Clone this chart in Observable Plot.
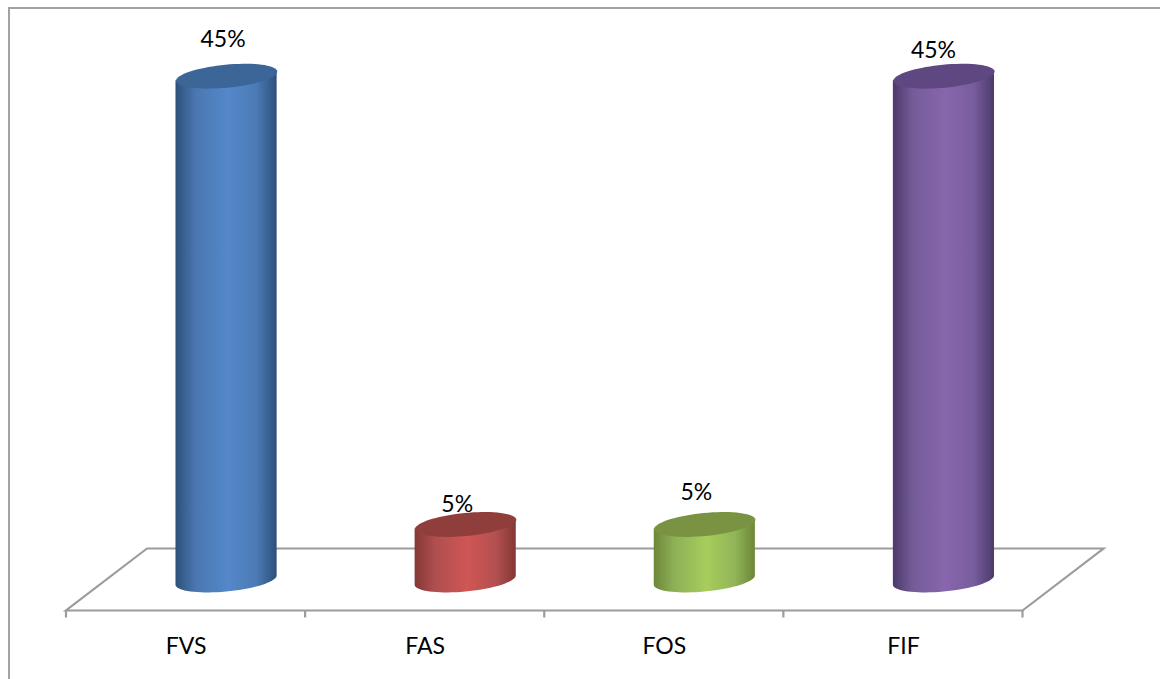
<!DOCTYPE html>
<html>
<head>
<meta charset="utf-8">
<style>
  html, body { margin: 0; background: #fff; overflow: hidden; }
  #panel { position: relative; width: 1160px; height: 679px; }
  #panel::before {
    content: ""; position: absolute; left: 8px; top: 7px; right: 0; bottom: 0;
    border-top: 2px solid #a2a2a2; border-left: 2px solid #a2a2a2; pointer-events: none;
  }
</style>
<script src="https://cdn.jsdelivr.net/npm/d3@7"></script>
<script src="https://cdn.jsdelivr.net/npm/@observablehq/plot@0.6"></script>
</head>
<body>
<div id="panel"></div>
<script>
// Share of each factor, in percent
const categories = ["FVS", "FAS", "FOS", "FIF"];
const shares = [45, 5, 5, 45];

// Per-column colours: top face, shaded edge, lit centre
const topColors = ["#3c6698", "#903e3c", "#7a9343", "#5f4782"];
const edgeColors = ["#2d5079", "#853735", "#6d8738", "#4c3a6b"];
const midColors = ["#5488ca", "#cf5654", "#a6cd5c", "#8866ad"];

const rows = categories.map((name, i) => ({name, share: shares[i], i}));

// Oblique projection of the chart floor
const depthX = 81;
const depthY = 62;
const shiftX = 40.5;

// Tilted ellipse that closes each column
const radiusA = 50.8;
const radiusB = 11.5;
const tilt = -5.5 * Math.PI / 180;
const ellipsePoint = t => [
  radiusA * Math.cos(t) * Math.cos(tilt) - radiusB * Math.sin(t) * Math.sin(tilt),
  radiusA * Math.cos(t) * Math.sin(tilt) + radiusB * Math.sin(t) * Math.cos(tilt)
];
const tangentT = Math.atan2(-radiusB * Math.sin(tilt), radiusA * Math.cos(tilt));

const ellipseSymbol = {
  draw(context) {
    d3.range(72).forEach(k => {
      const [px, py] = ellipsePoint(k / 72 * 2 * Math.PI);
      if (k) context.lineTo(px, py); else context.moveTo(px, py);
    });
    context.closePath();
  }
};

// Horizontal cylinder shading, one gradient per category
function gradients() {
  const defs = d3.create("svg:defs");
  categories.forEach((name, i) => {
    const g = defs.append("linearGradient").attr("id", `shade-${i}`);
    [[0, edgeColors[i], 1], [0.2, midColors[i], 0.82], [0.52, midColors[i], 1],
     [0.8, midColors[i], 0.85], [1, edgeColors[i], 1]].forEach(([offset, color, light]) => {
      g.append("stop")
        .attr("offset", offset)
        .attr("stop-color", d3.interpolateRgb("#1c2c40", color)(light));
    });
  });
  return defs.node();
}

// Floor outline and the ticks between categories, placed by the x scale
function floor(index, {x}, values, {height, marginBottom}) {
  const g = d3.create("svg:g").attr("fill", "none").attr("stroke", "#9c9c9c").attr("stroke-width", 2.2);
  const x0 = x(categories[0]);
  const x1 = x(categories[categories.length - 1]) + x.bandwidth();
  const front = height - marginBottom;
  g.append("path").attr("d",
    `M${x0},${front}L${x1},${front}L${x1 + depthX},${front - depthY}L${x0 + depthX},${front - depthY}Z`);
  [...categories.map(c => x(c)), x1].forEach(px => {
    g.append("line").attr("x1", px).attr("x2", px).attr("y1", front).attr("y2", front + 7);
  });
  return g.node();
}

// Swap the bar rectangles for cylinder bodies with a curved base
function cylinderBody(index, scales, values, dimensions, context, next) {
  const g = d3.create("svg:g");
  const cx = i => values.x[i] + scales.x.bandwidth() / 2 + shiftX;
  index.forEach(i => {
    const path = d3.path();
    d3.range(37).forEach(k => {
      const [px, py] = ellipsePoint(tangentT + k / 36 * Math.PI);
      if (k) path.lineTo(cx(i) + px, values.y2[i] + py);
      else path.moveTo(cx(i) + px, values.y2[i] + py);
    });
    const [rx, ry] = ellipsePoint(tangentT);
    path.lineTo(cx(i) - rx, values.y1[i] - ry);
    path.lineTo(cx(i) + rx, values.y1[i] + ry);
    path.closePath();
    g.append("path").attr("d", path.toString()).attr("fill", `url(#shade-${rows[i].i})`);
  });
  return g.node();
}

// Offsets of the value labels from their column tops
const labelNudge = {
  FVS: [37, -37],
  FAS: [32, -20],
  FOS: [32, -32],
  FIF: [30, -26]
};

const chart = Plot.plot({
  width: 1160,
  height: 679,
  marginTop: 0,
  marginRight: 137.5,
  marginBottom: 68.5,
  marginLeft: 66,
  style: {background: "#fff", fontFamily: "Lato, sans-serif", color: "#000"},
  x: {domain: categories, padding: 0, round: false, axis: null},
  y: {domain: [0, 45], range: [580, 75.7], axis: null},
  color: {domain: categories, range: topColors},
  marks: [
    gradients,
    floor,
    Plot.barY(rows, {
      x: "name",
      y1: "share",
      y2: () => 0,
      render: cylinderBody
    }),
    Plot.dot(rows, {
      x: "name",
      y: "share",
      dx: shiftX,
      r: 10,
      symbol: ellipseSymbol,
      fill: "name",
      stroke: "none"
    }),
    ...categories.map(name => Plot.text(rows.filter(d => d.name === name), {
      x: "name",
      y: "share",
      text: d => `${d.share}%`,
      dx: labelNudge[name][0],
      dy: labelNudge[name][1],
      fontSize: 23,
      fill: "#000"
    })),
    Plot.axisX({
      anchor: "bottom",
      tickSize: 0,
      tickPadding: 27,
      fontSize: 23,
      label: null,
      fill: "#000"
    })
  ]
});

document.getElementById("panel").append(chart);
</script>
</body>
</html>
